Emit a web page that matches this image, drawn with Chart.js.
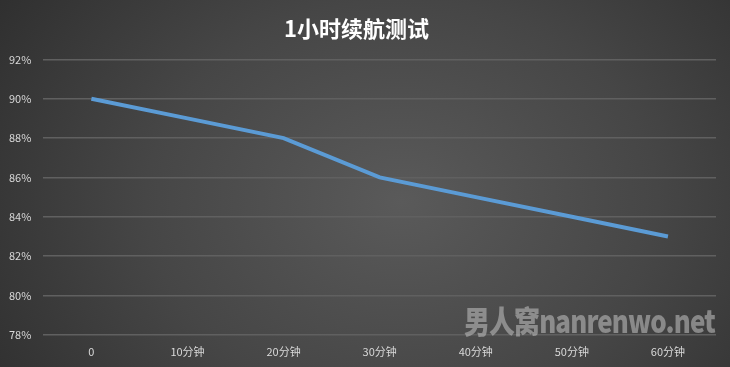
<!DOCTYPE html>
<html><head><meta charset="utf-8">
<script src="https://cdn.jsdelivr.net/npm/chart.js@4/dist/chart.umd.min.js"></script>
<style>
html,body{margin:0;padding:0;}
#wrap{position:relative;width:730px;height:367px;background:radial-gradient(ellipse 70% 110% at 55% 55%, #5a5a5a 0%, #464646 50%, #2c2c2c 100%);overflow:hidden;}
canvas{position:absolute;left:0;top:0;}
#wm{position:absolute;left:464px;top:304px;white-space:nowrap;font-family:"Noto Sans CJK SC",sans-serif;font-weight:900;font-size:31px;color:rgba(185,185,185,0.6);letter-spacing:-1px;line-height:1;transform:scaleX(0.835);transform-origin:left top;}
</style></head>
<body>
<div id="wrap"><canvas id="c" width="730" height="367"></canvas><div id="wm">男人窝nanrenwo.net</div></div>
<script>
const categories = ["0","10分钟","20分钟","30分钟","40分钟","50分钟","60分钟"];
const batteryValues = [90, 89, 88, 86, 85, 84, 83];
const yTicks = [78, 80, 82, 84, 86, 88, 90, 92];
const titleText = "1小时续航测试";

new Chart(document.getElementById('c'), {
  type: 'line',
  data: {
    labels: categories,
    datasets: [{
      data: batteryValues,
      borderColor: '#5b9bd5',
      borderWidth: 4,
      pointRadius: 0,
      tension: 0,
      fill: false
    }]
  },
  options: {
    responsive: false,
    animation: false,
    layout: { padding: { left: -3, right: 14, top: 7, bottom: -1 } },
    plugins: {
      legend: { display: false },
      tooltip: { enabled: false },
      title: {
        display: true,
        text: titleText,
        color: '#ffffff',
        font: { family: '"Noto Sans CJK SC", sans-serif', size: 22, weight: 'bold' },
        padding: { top: 8, bottom: 18 }
      }
    },
    scales: {
      x: {
        offset: true,
        grid: { display: false, drawTicks: false },
        border: { display: false },
        ticks: { color: '#d9d9d9', font: { family: '"Noto Sans CJK SC", sans-serif', size: 11 }, padding: 10, maxRotation: 0 }
      },
      y: {
        min: 78, max: 92,
        afterBuildTicks: (axis) => { axis.ticks = yTicks.map(v => ({ value: v })); },
        grid: { color: '#606060', lineWidth: 1.5, drawTicks: false },
        border: { display: false },
        ticks: { color: '#d9d9d9', font: { family: '"Noto Sans CJK SC", sans-serif', size: 11 }, padding: 12, callback: v => v + '%' }
      }
    }
  }
});
</script>
</body></html>
